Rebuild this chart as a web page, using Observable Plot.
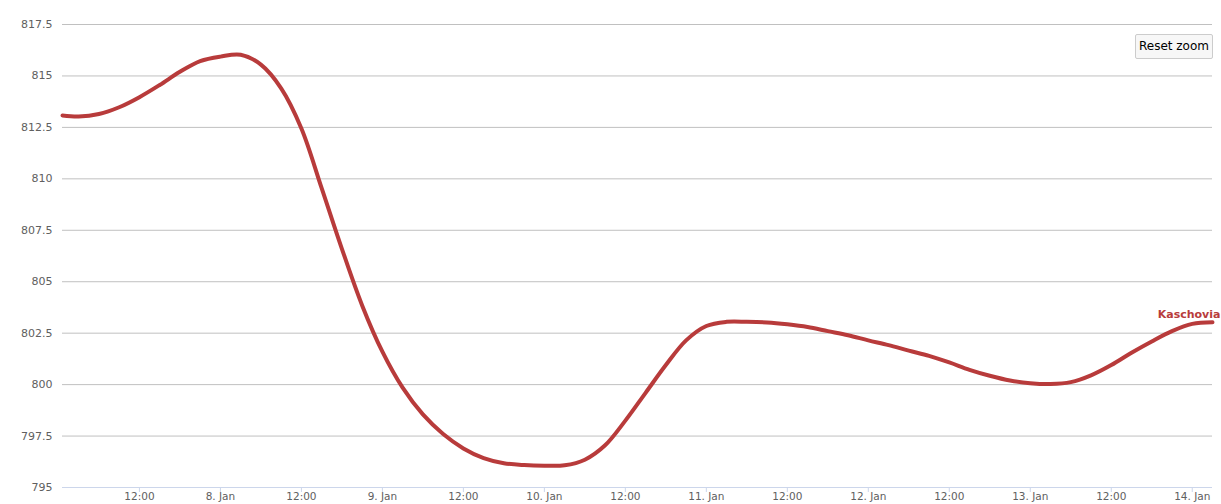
<!DOCTYPE html>
<html>
<head>
<meta charset="utf-8">
<script src="https://cdn.jsdelivr.net/npm/d3@7"></script>
<script src="https://cdn.jsdelivr.net/npm/@observablehq/plot@0.6"></script>
<style>
  html, body { margin: 0; padding: 0; background: #fff; }
  #wrap { position: relative; width: 1221px; height: 504px; overflow: hidden; }
  #reset {
    position: absolute; left: 1135px; top: 34px; width: 78px; height: 25px;
    box-sizing: border-box; background: #f7f7f7; border: 1px solid #cccccc; border-radius: 2px;
    font: 12px "DejaVu Sans", sans-serif; color: #000; text-align: center; line-height: 23px;
  }
</style>
</head>
<body>
<div id="wrap"><div id="chart"></div><div id="reset">Reset zoom</div></div>
<script>
const seriesName = "Kaschovia";
const times = [
  "2015-01-07T00:36Z","2015-01-07T03:00Z","2015-01-07T06:00Z","2015-01-07T09:00Z","2015-01-07T12:00Z","2015-01-07T15:00Z","2015-01-07T18:00Z","2015-01-07T21:00Z",
  "2015-01-08T00:00Z","2015-01-08T03:00Z","2015-01-08T06:00Z","2015-01-08T09:00Z","2015-01-08T12:00Z","2015-01-08T15:00Z","2015-01-08T18:00Z","2015-01-08T21:00Z",
  "2015-01-09T00:00Z","2015-01-09T03:00Z","2015-01-09T06:00Z","2015-01-09T09:00Z","2015-01-09T12:00Z","2015-01-09T15:00Z","2015-01-09T18:00Z","2015-01-09T21:00Z",
  "2015-01-10T00:00Z","2015-01-10T03:00Z","2015-01-10T06:00Z","2015-01-10T09:00Z","2015-01-10T12:00Z","2015-01-10T15:00Z","2015-01-10T18:00Z","2015-01-10T21:00Z",
  "2015-01-11T00:00Z","2015-01-11T03:00Z","2015-01-11T06:00Z","2015-01-11T09:00Z","2015-01-11T12:00Z","2015-01-11T15:00Z","2015-01-11T18:00Z","2015-01-11T21:00Z",
  "2015-01-12T00:00Z","2015-01-12T03:00Z","2015-01-12T06:00Z","2015-01-12T09:00Z","2015-01-12T12:00Z","2015-01-12T15:00Z","2015-01-12T18:00Z","2015-01-12T21:00Z",
  "2015-01-13T00:00Z","2015-01-13T03:00Z","2015-01-13T06:00Z","2015-01-13T09:00Z","2015-01-13T12:00Z","2015-01-13T15:00Z","2015-01-13T18:00Z","2015-01-13T21:00Z",
  "2015-01-14T00:00Z","2015-01-14T03:00Z"
];
const values = [
  813.08, 813.03, 813.15, 813.48, 813.97, 814.56, 815.2, 815.72,
  815.94, 816.03, 815.55, 814.4, 812.45, 809.55, 806.6, 803.85,
  801.6, 799.85, 798.55, 797.6, 796.9, 796.43, 796.18, 796.09,
  796.06, 796.08, 796.35, 797.05, 798.25, 799.6, 800.95, 802.15,
  802.85, 803.05, 803.05, 803.02, 802.93, 802.8, 802.6, 802.4,
  802.15, 801.92, 801.65, 801.4, 801.08, 800.72, 800.43, 800.2,
  800.07, 800.03, 800.12, 800.45, 800.95, 801.55, 802.1, 802.6,
  802.95, 803.03
];
const yTicks = [795, 797.5, 800, 802.5, 805, 807.5, 810, 812.5, 815, 817.5];
const xTickTimes = [
  "2015-01-07T12:00Z","2015-01-08T00:00Z","2015-01-08T12:00Z","2015-01-09T00:00Z","2015-01-09T12:00Z",
  "2015-01-10T00:00Z","2015-01-10T12:00Z","2015-01-11T00:00Z","2015-01-11T12:00Z","2015-01-12T00:00Z",
  "2015-01-12T12:00Z","2015-01-13T00:00Z","2015-01-13T12:00Z","2015-01-14T00:00Z"
];
const xDomain = ["2015-01-07T00:36Z", "2015-01-14T03:00Z"];

const lineColor = "#b83b3b";
const data = times.map((t, i) => ({t: new Date(t), v: values[i]}));
const xt = xTickTimes.map(s => new Date(s));
const fmtX = d => d.getUTCHours() === 12 ? "12:00" : d.getUTCDate() + ". " + d3.utcFormat("%b")(d);

const chart = Plot.plot({
  width: 1221,
  height: 504,
  marginLeft: 62,
  marginRight: 9,
  marginTop: 24,
  marginBottom: 17,
  style: {fontFamily: "DejaVu Sans, sans-serif", fontSize: "11px", background: "#fff"},
  x: {type: "utc", domain: xDomain.map(s => new Date(s))},
  y: {domain: [795, 817.5]},
  marks: [
    Plot.gridY(yTicks.filter(d => d > 795), {stroke: "#c0c0c0", strokeOpacity: 1, strokeWidth: 1}),
    Plot.ruleY([795], {stroke: "#ccd6eb", strokeWidth: 1}),
    Plot.axisY(yTicks, {tickSize: 0, tickPadding: 10, fill: "#606060", tickFormat: d => String(d), label: null, fontSize: 11}),
    Plot.axisX(xt, {tickSize: 5, tickPadding: 0, stroke: "#ccd6eb", fill: "#606060", tickFormat: fmtX, label: null, fontSize: 10.5}),
    Plot.line(data, {x: "t", y: "v", stroke: lineColor, strokeWidth: 4, curve: "catmull-rom"}),
    Plot.text(data.slice(-1), {x: "t", y: "v", text: () => seriesName, textAnchor: "end", dx: 8, dy: -8, fill: lineColor, fontWeight: "bold", fontSize: 11})
  ]
});
document.getElementById("chart").appendChild(chart);
</script>
</body>
</html>
